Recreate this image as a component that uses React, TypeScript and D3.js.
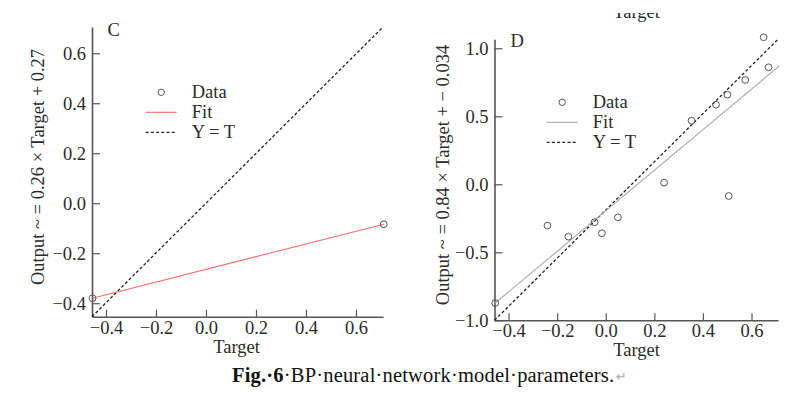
import React, { useRef, useEffect } from 'react';
import * as d3 from 'd3';

// Panel C values
const targetC = [-0.454, 0.711];
const outputC = [-0.38, -0.084];
const fitC: [number, number][] = [[-0.454, -0.38], [0.711, -0.084]];
const identityC: [number, number][] = [[-0.456, -0.454], [0.708, 0.705]];
const xTicksC = [-0.4, -0.2, 0, 0.2, 0.4, 0.6];
const yTicksC = [-0.4, -0.2, 0, 0.2, 0.4, 0.6];

// Panel D values
const targetD = [0.650, 0.670, 0.574, 0.501, 0.454, 0.353, 0.240, 0.506, -0.240, -0.154, -0.046, -0.016, 0.050, -0.455];
const outputD = [1.081, 0.860, 0.767, 0.659, 0.585, 0.468, 0.012, -0.086, -0.304, -0.385, -0.279, -0.360, -0.243, -0.873];
const fitD: [number, number][] = [[-0.455, -0.873], [0.714, 0.870]];
const identityD: [number, number][] = [[-0.458, -1.0], [0.709, 1.066]];
const xTicksD = [-0.4, -0.2, 0, 0.2, 0.4, 0.6];
const yTicksD = [-1.0, -0.5, 0, 0.5, 1.0];

const FONT = '"Liberation Serif", "Times New Roman", serif';
const FS = '18.5px';
const AXIS = '#555';
const INK = '#2b2b2b';

interface PanelCfg {
    letter: string;
    letterPos: [number, number];
    xDomain: [number, number];
    yDomain: [number, number];
    xRange: [number, number];
    yRange: [number, number];
    xTicks: number[];
    yTicks: number[];
    target: number[];
    output: number[];
    fit: [number, number][];
    identity: [number, number][];
    fitColor: string;
    yLabel: string;
    yLabelPos: [number, number];
    xLabelPos: [number, number];
    legend: [number, number];
    xPad: number;
}

function drawPanel(svg: d3.Selection<SVGSVGElement, unknown, null, undefined>, c: PanelCfg) {
    const x = d3.scaleLinear().domain(c.xDomain).range(c.xRange);
    const y = d3.scaleLinear().domain(c.yDomain).range(c.yRange);
    const g = svg.append('g');

    const xAxis = g.append('g')
        .attr('transform', `translate(0,${c.yRange[0]})`)
        .call(d3.axisBottom(x).tickValues(c.xTicks).tickFormat(d3.format('.1f') as any)
            .tickSize(-7).tickSizeOuter(0).tickPadding(c.xPad));
    const yAxis = g.append('g')
        .attr('transform', `translate(${c.xRange[0]},0)`)
        .call(d3.axisLeft(y).tickValues(c.yTicks).tickFormat(d3.format('.1f') as any)
            .tickSize(-8).tickSizeOuter(0).tickPadding(6));

    [xAxis, yAxis].forEach(a => {
        a.select('.domain').attr('stroke', AXIS).attr('stroke-width', 1.6);
        a.selectAll('.tick line').attr('stroke', AXIS).attr('stroke-width', 1.2);
        a.selectAll('.tick text').attr('fill', INK).style('font-family', FONT).style('font-size', FS);
    });

    const line = d3.line<[number, number]>().x(d => x(d[0])).y(d => y(d[1]));

    g.append('path').attr('d', line(c.identity) as string)
        .attr('fill', 'none').attr('stroke', '#222').attr('stroke-width', 1.3)
        .attr('stroke-dasharray', '3,2.2');

    g.append('path').attr('d', line(c.fit) as string)
        .attr('fill', 'none').attr('stroke', c.fitColor).attr('stroke-width', 1.1);

    g.selectAll('circle.pt')
        .data(c.target.map((t, i) => [t, c.output[i]]))
        .enter().append('circle')
        .attr('class', 'pt')
        .attr('cx', d => x(d[0]))
        .attr('cy', d => y(d[1]))
        .attr('r', 3.4)
        .attr('fill', 'none')
        .attr('stroke', '#555')
        .attr('stroke-width', 1);

    const txt = (sel: d3.Selection<SVGTextElement, unknown, null, undefined>) =>
        sel.attr('fill', INK).style('font-family', FONT).style('font-size', FS);

    g.append('text').attr('x', c.letterPos[0]).attr('y', c.letterPos[1]).text(c.letter).call(txt);

    g.append('text')
        .attr('transform', `translate(${c.yLabelPos[0]},${c.yLabelPos[1]}) rotate(-90)`)
        .attr('text-anchor', 'middle')
        .text(c.yLabel).call(txt);

    g.append('text').attr('x', c.xLabelPos[0]).attr('y', c.xLabelPos[1])
        .attr('text-anchor', 'middle').text('Target').call(txt);

    // legend
    const [lx, ly] = c.legend;
    const lg = g.append('g').attr('transform', `translate(${lx},${ly})`);
    lg.append('circle').attr('cx', 15.5).attr('cy', -6).attr('r', 3.2)
        .attr('fill', 'none').attr('stroke', '#555').attr('stroke-width', 1);
    lg.append('line').attr('x1', 0).attr('x2', 31).attr('y1', 14).attr('y2', 14)
        .attr('stroke', c.fitColor).attr('stroke-width', 1.1);
    lg.append('line').attr('x1', 0).attr('x2', 31).attr('y1', 34).attr('y2', 34)
        .attr('stroke', '#222').attr('stroke-width', 1.3).attr('stroke-dasharray', '3,2.2');
    ['Data', 'Fit', 'Y = T'].forEach((s, i) => {
        lg.append('text').attr('x', 46).attr('y', i * 20).text(s).call(txt);
    });
}

const App: React.FC = () => {
    const svgRef = useRef<SVGSVGElement | null>(null);

    useEffect(() => {
        if (!svgRef.current) return;
        const svg = d3.select(svgRef.current);
        svg.selectAll('*').remove();

        svg.append('rect').attr('width', 800).attr('height', 398).attr('fill', '#fff');

        drawPanel(svg, {
            letter: 'C', letterPos: [107.5, 36],
            xDomain: [-0.456, 0.708], yDomain: [-0.454, 0.705],
            xRange: [92, 383], yRange: [316.7, 27],
            xTicks: xTicksC, yTicks: yTicksC,
            target: targetC, output: outputC, fit: fitC, identity: identityC,
            fitColor: '#f26d6d',
            yLabel: 'Output ~ = 0.26 × Target + 0.27', yLabelPos: [44, 167],
            xLabelPos: [236.5, 353], legend: [145.7, 98.3], xPad: 4,
        });

        drawPanel(svg, {
            letter: 'D', letterPos: [510.5, 47],
            xDomain: [-0.458, 0.709], yDomain: [-1.0, 1.066],
            xRange: [494.5, 778], yRange: [320.3, 39.3],
            xTicks: xTicksD, yTicks: yTicksD,
            target: targetD, output: outputD, fit: fitD, identity: identityD,
            fitColor: '#aaaaaa',
            yLabel: 'Output ~ = 0.84 × Target + − 0.034', yLabelPos: [449, 175],
            xLabelPos: [636.5, 356], legend: [546.7, 108.3], xPad: 4,
        });

        // cut-off label from the panel above
        const clip = svg.append('clipPath').attr('id', 'topclip');
        clip.append('rect').attr('x', 0).attr('y', 13).attr('width', 800).attr('height', 20);
        svg.append('text').attr('x', 636.5).attr('y', 18).attr('text-anchor', 'middle')
            .attr('clip-path', 'url(#topclip)')
            .attr('fill', INK).style('font-family', FONT).style('font-size', FS)
            .text('Target');

        // caption
        const cap = svg.append('text').attr('x', 232).attr('y', 382)
            .attr('textLength', 382).attr('lengthAdjust', 'spacing')
            .attr('fill', '#111').style('font-family', FONT).style('font-size', '20.5px');
        cap.append('tspan').attr('font-weight', 'bold').text('Fig.\u00B76');
        cap.append('tspan').text('\u00B7BP\u00B7neural\u00B7network\u00B7model\u00B7parameters.');
        svg.append('text').attr('x', 616).attr('y', 381)
            .attr('fill', '#aaa').style('font-family', '"DejaVu Sans", sans-serif').style('font-size', '13px')
            .text('\u21B5');
    }, []);

    return <svg ref={svgRef} width="800" height="398"
        style={{ position: 'absolute', left: 0, top: 0, display: 'block' }}></svg>;
};

export default App;
